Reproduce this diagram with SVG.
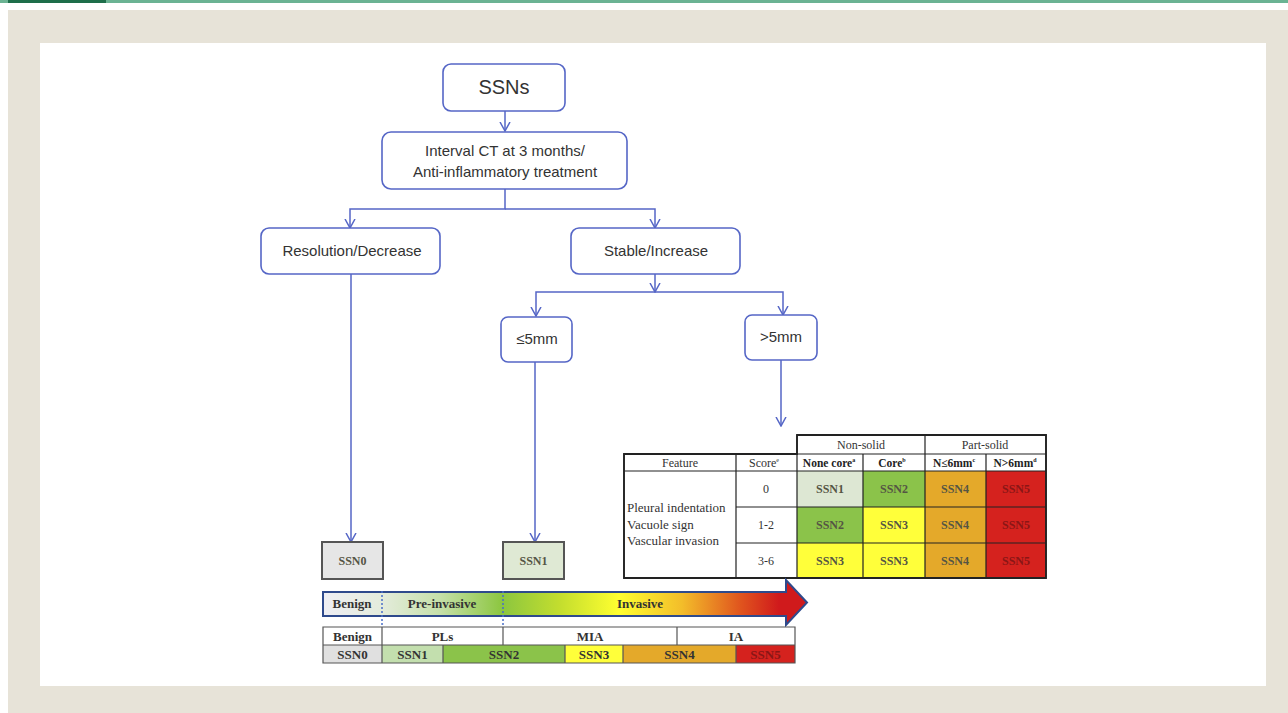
<svg xmlns="http://www.w3.org/2000/svg" width="1288" height="713" viewBox="0 0 1288 713">
<defs>
<style>
.node{fill:#fff;stroke:#5566c6;stroke-width:1.6}
.ntxt{font-family:"Liberation Sans","Open Sans",sans-serif;font-size:15px;fill:#333;text-anchor:middle}
.con{fill:none;stroke:#5566c6;stroke-width:1.5}
.box{stroke:#555;stroke-width:2}
.tb{fill:none;stroke:#222;stroke-width:1.2}
.st{font-family:"Liberation Serif","Times New Roman",serif;font-size:12px;fill:#333;text-anchor:middle}
.sb{font-family:"Liberation Serif","Times New Roman",serif;font-size:11.5px;fill:#222;font-weight:bold;text-anchor:middle}
.bb{font-family:"Liberation Serif","Times New Roman",serif;font-size:13px;fill:#333;font-weight:bold;text-anchor:middle}
.cell{font-family:"Liberation Serif","Times New Roman",serif;font-size:12px;fill:#555544;font-weight:bold;text-anchor:middle}
.red{fill:#8a1616}
.g1{fill:#dde7d3}.g2{fill:#8bc34a}.y3{fill:#ffff3a}.o4{fill:#e4a92a}.r5{fill:#d5221e}
</style>
<marker id="ah" viewBox="0 -6 10 12" refX="9" refY="0" markerWidth="10" markerHeight="12" markerUnits="userSpaceOnUse" orient="auto">
<path d="M0,-5 L9,0 L0,5" fill="none" stroke="#5566c6" stroke-width="1.5"/>
</marker>
<linearGradient id="grad" gradientUnits="userSpaceOnUse" x1="323" y1="0" x2="808" y2="0">
<stop offset="0" stop-color="#eeeef4"/>
<stop offset="0.12" stop-color="#e4ecdc"/>
<stop offset="0.24" stop-color="#c6e0aa"/>
<stop offset="0.37" stop-color="#8cc63f"/>
<stop offset="0.49" stop-color="#c4de2e"/>
<stop offset="0.61" stop-color="#ffff30"/>
<stop offset="0.74" stop-color="#f3bd2a"/>
<stop offset="0.86" stop-color="#e0551e"/>
<stop offset="0.94" stop-color="#d01a1c"/>
<stop offset="1" stop-color="#d01a1c"/>
</linearGradient>
</defs>

<!-- page background -->
<rect x="0" y="0" width="1288" height="713" fill="#fff"/>
<rect x="0" y="0" width="1288" height="3" fill="#6bb393"/>
<rect x="8" y="0" width="98" height="3" fill="#1e6e4a"/>
<rect x="8" y="10" width="1280" height="703" fill="#e7e3d8"/>
<rect x="40" y="43" width="1226" height="643" fill="#fff"/>

<!-- connectors -->
<g id="connectors">
<path class="con" d="M505,111 V131" marker-end="url(#ah)"/>
<path class="con" d="M505,189 V209 H350 V228" marker-end="url(#ah)"/>
<path class="con" d="M505,209 H655 V228" marker-end="url(#ah)"/>
<path class="con" d="M655,274 V292" marker-end="url(#ah)"/>
<path class="con" d="M655,292 H536 V316" marker-end="url(#ah)"/>
<path class="con" d="M655,292 H783 V315" marker-end="url(#ah)"/>
<path class="con" d="M351,274 V542" marker-end="url(#ah)"/>
<path class="con" d="M535,362 V542" marker-end="url(#ah)"/>
<path class="con" d="M781,359 V426" marker-end="url(#ah)"/>
</g>

<!-- flow nodes -->
<g id="ssns">
<rect class="node" x="443" y="64" width="122" height="47" rx="8"/>
<text class="ntxt" x="504" y="94" style="font-size:20px">SSNs</text>
</g>
<g id="interval">
<rect class="node" x="382" y="132" width="245" height="57" rx="9"/>
<text class="ntxt" x="505" y="156">Interval CT at 3 months/</text>
<text class="ntxt" x="505" y="177">Anti-inflammatory treatment</text>
</g>
<g id="resolution">
<rect class="node" x="261" y="228" width="179" height="46" rx="8"/>
<text class="ntxt" x="352" y="256">Resolution/Decrease</text>
</g>
<g id="stable">
<rect class="node" x="571" y="228" width="169" height="46" rx="8"/>
<text class="ntxt" x="656" y="256">Stable/Increase</text>
</g>
<g id="le5">
<rect class="node" x="501" y="317" width="71" height="45" rx="7"/>
<text class="ntxt" x="537" y="344">≤5mm</text>
</g>
<g id="gt5">
<rect class="node" x="745" y="315" width="72" height="45" rx="7"/>
<text class="ntxt" x="781" y="342">&gt;5mm</text>
</g>

<g id="ssn0">
<rect class="box" x="322" y="542" width="61" height="37" fill="#e6e6e6"/>
<text class="cell" x="352.5" y="565">SSN0</text>
</g>
<g id="ssn1">
<rect class="box" x="503" y="542" width="61" height="37" fill="#dfe9d4"/>
<text class="cell" x="533.5" y="565">SSN1</text>
</g>

<!-- scoring table -->
<g id="score-table">
<rect class="g1" x="797" y="471" width="66" height="36"/>
<rect class="g2" x="863" y="471" width="62" height="36"/>
<rect class="o4" x="925" y="471" width="61" height="36"/>
<rect class="r5" x="986" y="471" width="60" height="36"/>
<rect class="g2" x="797" y="507" width="66" height="36"/>
<rect class="y3" x="863" y="507" width="62" height="36"/>
<rect class="o4" x="925" y="507" width="61" height="36"/>
<rect class="r5" x="986" y="507" width="60" height="36"/>
<rect class="y3" x="797" y="543" width="66" height="35"/>
<rect class="y3" x="863" y="543" width="62" height="35"/>
<rect class="o4" x="925" y="543" width="61" height="35"/>
<rect class="r5" x="986" y="543" width="60" height="35"/>
<path class="tb" d="M797,435 H1046 V578 H624 V454 H1046 M797,435 V578 M925,435 V578 M624,471 H1046 M736,454 V578 M863,454 V578 M986,454 V578 M736,507 H1046 M736,543 H1046"/>
<path fill="none" stroke="#222" stroke-width="1.8" d="M797,435 H1046 V578 H624 V454 H797 Z"/>
<text class="st" x="861" y="449">Non-solid</text>
<text class="st" x="985" y="449">Part-solid</text>
<text class="st" x="680" y="467">Feature</text>
<text class="st" x="764" y="467">Score<tspan font-size="6" dy="-5">e</tspan></text>
<text class="sb" x="829" y="467">None core<tspan font-size="6" dy="-5">a</tspan></text>
<text class="sb" x="892" y="467">Core<tspan font-size="6" dy="-5">b</tspan></text>
<text class="sb" x="954" y="467">N≤6mm<tspan font-size="6" dy="-5">c</tspan></text>
<text class="sb" x="1015" y="467">N&gt;6mm<tspan font-size="6" dy="-5">d</tspan></text>
<text class="st" x="627" y="512" style="text-anchor:start;font-size:13px">Pleural indentation</text>
<text class="st" x="627" y="529" style="text-anchor:start;font-size:13px">Vacuole  sign</text>
<text class="st" x="627" y="545" style="text-anchor:start;font-size:13px">Vascular invasion</text>
<text class="st" x="766" y="493">0</text>
<text class="st" x="766" y="529">1-2</text>
<text class="st" x="766" y="565">3-6</text>
<text class="cell" x="830" y="493">SSN1</text>
<text class="cell" x="894" y="493">SSN2</text>
<text class="cell" x="955" y="493">SSN4</text>
<text class="cell red" x="1016" y="493">SSN5</text>
<text class="cell" x="830" y="529">SSN2</text>
<text class="cell" x="894" y="529">SSN3</text>
<text class="cell" x="955" y="529">SSN4</text>
<text class="cell red" x="1016" y="529">SSN5</text>
<text class="cell" x="830" y="565">SSN3</text>
<text class="cell" x="894" y="565">SSN3</text>
<text class="cell" x="955" y="565">SSN4</text>
<text class="cell red" x="1016" y="565">SSN5</text>
</g>

<!-- progression arrow -->
<g id="progression">
<path d="M323,592 H786 V580 L807,602.5 L786,625 V616 H323 Z" fill="url(#grad)" stroke="#2e4a8c" stroke-width="2" stroke-linejoin="miter"/>
<path d="M382,591 V627 M503,591 V627" stroke="#4a6fc8" stroke-width="1.5" stroke-dasharray="2,2"/>
<text class="bb" x="352" y="608">Benign</text>
<text class="bb" x="442" y="608">Pre-invasive</text>
<text class="bb" x="640" y="608">Invasive</text>
</g>

<!-- bottom classification table -->
<g id="class-table">
<rect x="323" y="627" width="472" height="18" fill="#fff"/>
<rect x="323" y="645" width="59" height="18" fill="#e0e0e0"/>
<rect x="382" y="645" width="61" height="18" fill="#c3dfae"/>
<rect x="443" y="645" width="122" height="18" fill="#8bc34a"/>
<rect x="565" y="645" width="58" height="18" fill="#ffff3a"/>
<rect x="623" y="645" width="113" height="18" fill="#e4a92a"/>
<rect x="736" y="645" width="59" height="18" fill="#d5221e"/>
<path fill="none" stroke="#555" stroke-width="1.2" d="M323,627 H795 V663 H323 Z M323,645 H795 M382,627 V663 M503,627 V645 M677,627 V645 M443,645 V663 M565,645 V663 M623,645 V663 M736,645 V663"/>
<text class="bb" x="352.5" y="641">Benign</text>
<text class="bb" x="442.5" y="641">PLs</text>
<text class="bb" x="590" y="641">MIA</text>
<text class="bb" x="736" y="641">IA</text>
<text class="bb" x="352.5" y="659">SSN0</text>
<text class="bb" x="412.5" y="659">SSN1</text>
<text class="bb" x="504" y="659">SSN2</text>
<text class="bb" x="594" y="659">SSN3</text>
<text class="bb" x="679.5" y="659">SSN4</text>
<text class="bb red" x="765.5" y="659">SSN5</text>
</g>
</svg>
